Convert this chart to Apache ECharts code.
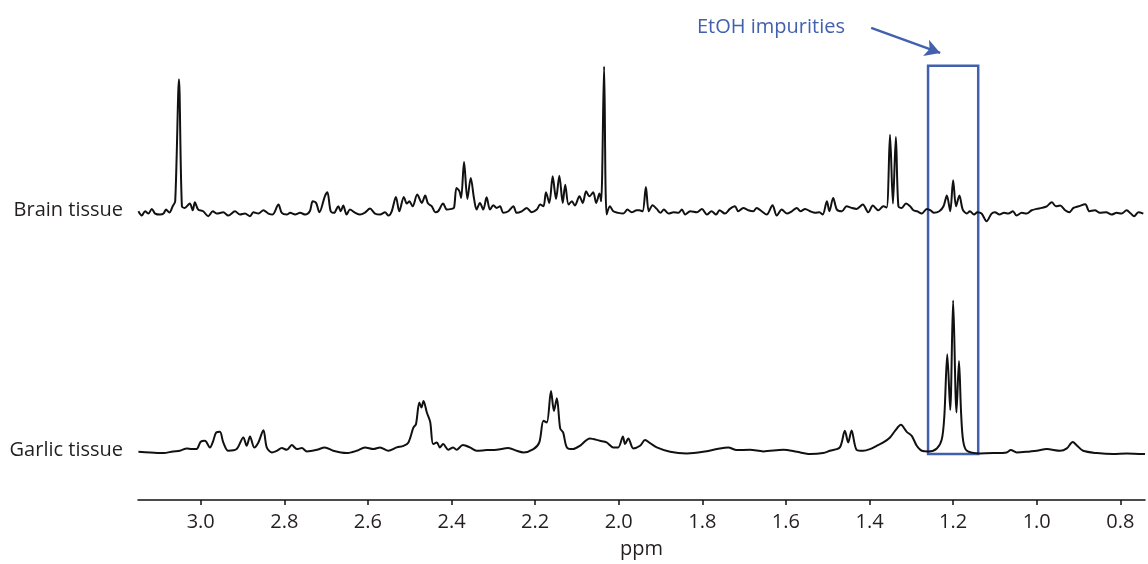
<!DOCTYPE html>
<html>
<head>
<meta charset="utf-8">
<title>1H NMR - brain vs garlic tissue</title>
<script src="https://cdn.jsdelivr.net/npm/echarts@6/dist/echarts.min.js"></script>
<style>
    html, body { margin: 0; padding: 0; background: #fff; }
    #spectrum { width: 1148px; height: 564px; }
</style>
</head>
<body>
<div id="spectrum"></div>
<script>
// tick labels on the ppm axis
var ppmTicks = [3.0, 2.8, 2.6, 2.4, 2.2, 2.0, 1.8, 1.6, 1.4, 1.2, 1.0, 0.8];

// trace labels
var traceNames = ['Brain tissue', 'Garlic tissue'];

// brain tissue spectrum [ppm, intensity]
var brainPoints = [
    [3.149, 1.3], [3.141, -3], [3.133, 1.3], [3.125, -1], [3.117, 3.7], [3.109, -1], [3.097, -2], [3.089, -1],
    [3.083, 3], [3.075, 0], [3.067, 6.3], [3.061, 11.3], [3.052, 133.7], [3.045, 6.3], [3.038, 4.7], [3.026, 9],
    [3.019, 2.3], [3.014, 10.3], [3.006, 3], [2.994, 1.3], [2.982, -3.7], [2.971, 1.3], [2.962, -1], [2.946, 0.3],
    [2.934, -3], [2.918, 1.3], [2.906, -2], [2.894, -1], [2.882, -3.7], [2.874, 0.3], [2.862, -1], [2.850, 2.3],
    [2.838, -1], [2.828, -2], [2.814, 8], [2.806, -0.3], [2.794, -2], [2.786, -0.3], [2.774, -2], [2.762, -0.3],
    [2.750, -2], [2.739, 1.3], [2.732, 11.3], [2.724, 9.7], [2.716, 0.3], [2.703, 16.3], [2.697, 20.3], [2.689, 1.3],
    [2.681, -0.3], [2.671, 6.3], [2.665, 1.3], [2.659, 7], [2.651, -2], [2.643, 3], [2.631, 0], [2.619, -2],
    [2.607, 0], [2.595, 4], [2.583, -1], [2.571, -2], [2.559, 0.3], [2.551, -3], [2.543, 1.3], [2.533, 15.7],
    [2.525, 1.3], [2.514, 15.7], [2.507, 9], [2.501, 11.3], [2.493, 6.3], [2.482, 18], [2.471, 9.7], [2.463, 17],
    [2.456, 9], [2.447, 6.3], [2.439, 0.3], [2.432, 1.3], [2.420, 9], [2.411, 3], [2.400, 3.7], [2.394, 4.7],
    [2.388, 24.7], [2.381, 21.3], [2.377, 14.7], [2.370, 50.7], [2.362, 13.7], [2.354, 34.7], [2.346, 13.7], [2.340, 3],
    [2.332, 9.7], [2.324, 3], [2.316, 15.3], [2.308, 3], [2.300, 7.3], [2.292, 4.7], [2.284, 6.3], [2.276, -0.3],
    [2.264, 1.3], [2.252, 6.3], [2.244, -0.3], [2.232, 1.3], [2.220, 4.7], [2.208, 0.3], [2.196, 3], [2.188, 8],
    [2.180, 6.3], [2.174, 20.3], [2.166, 9.7], [2.158, 36.3], [2.150, 13.7], [2.142, 37], [2.134, 9.7], [2.128, 28],
    [2.120, 8], [2.112, 11.3], [2.105, 7], [2.094, 16.3], [2.086, 9.7], [2.078, 21.3], [2.070, 16.3], [2.061, 20.3],
    [2.054, 9.7], [2.046, 19], [2.042, 11.3], [2.035, 146.3], [2.029, -2], [2.021, 6.3], [2.013, 1.3], [2.001, -0.3],
    [1.989, -1], [1.979, 3], [1.969, 0.3], [1.957, 2.3], [1.951, 2.3], [1.943, 1.3], [1.935, 25.7], [1.928, 1.3],
    [1.919, 7.3], [1.909, 3.7], [1.900, -0.3], [1.892, 3], [1.881, -1], [1.869, 0.3], [1.857, -0.3], [1.849, 3],
    [1.841, -2], [1.829, 1.3], [1.813, 0.3], [1.801, 3.7], [1.789, -2], [1.778, 1.3], [1.767, -2], [1.759, 2.3],
    [1.746, -1], [1.734, 3.7], [1.722, 6.3], [1.714, 1.3], [1.702, 4.7], [1.690, 2.3], [1.678, 1.3], [1.670, 4.7],
    [1.658, 1.3], [1.646, -2], [1.632, 7.3], [1.622, -3], [1.610, 3], [1.598, -1], [1.586, 1.3], [1.574, 4.7],
    [1.565, 1.3], [1.554, 3.7], [1.542, 1.3], [1.530, -0.3], [1.520, 0.3], [1.512, -2], [1.502, 11.3], [1.496, 1.3],
    [1.487, 14.7], [1.478, 3], [1.466, 1.3], [1.455, 6.3], [1.443, 4.7], [1.431, 3.7], [1.416, 8], [1.403, 0.3],
    [1.392, 7], [1.379, 2.3], [1.367, 6.3], [1.359, 5], [1.351, 78], [1.344, 9], [1.337, 75.7], [1.331, 6.3],
    [1.323, 4.7], [1.313, 9], [1.303, 6.3], [1.295, 2.3], [1.286, 1.3], [1.275, -1], [1.263, 3.7], [1.254, 2.3],
    [1.246, -0.3], [1.233, 1.3], [1.223, 6.3], [1.215, 17], [1.207, 1.3], [1.200, 32.3], [1.193, 6.3], [1.185, 17],
    [1.177, 3], [1.167, -1], [1.160, 1.3], [1.150, -2], [1.142, 0.3], [1.132, -1], [1.120, -8.7], [1.108, -1],
    [1.100, 0.3], [1.089, -2], [1.078, -0.3], [1.068, -1], [1.057, 1.3], [1.048, -3], [1.036, -0.3], [1.024, -1],
    [1.012, 2.3], [1.000, 3.7], [0.988, 4.7], [0.976, 6.3], [0.964, 10.3], [0.954, 6.3], [0.944, 7], [0.932, 2.3],
    [0.922, 0.3], [0.912, 4.7], [0.900, 6.3], [0.884, 8.3], [0.874, 1.3], [0.861, 2.3], [0.849, -0.3], [0.834, 0.3],
    [0.821, -2], [0.809, -0.3], [0.797, -1], [0.785, 2.3], [0.775, -1], [0.767, -3.7], [0.757, 0.3], [0.745, -1]
];

// garlic tissue spectrum [ppm, intensity]
var garlicPoints = [
    [3.149, 0.3], [3.121, -0.3], [3.089, -1], [3.066, 0.7], [3.050, 1.3], [3.033, 3.7], [3.022, 3], [3.010, 3],
    [3.000, 10.3], [2.990, 11.3], [2.978, 4.7], [2.970, 11.3], [2.963, 19.7], [2.954, 20.3], [2.946, 9.7], [2.934, 1.3],
    [2.914, 3], [2.898, 14.7], [2.890, 6.3], [2.882, 15.7], [2.872, 4.7], [2.862, 9.7], [2.850, 22], [2.842, 4.7],
    [2.830, -0.3], [2.818, 1.3], [2.806, 4], [2.794, 2.3], [2.782, 7], [2.770, 3], [2.758, 4], [2.746, 0.7],
    [2.722, 2.3], [2.703, 4.7], [2.683, 1.3], [2.651, -1], [2.627, 1.3], [2.607, 4.7], [2.587, 3], [2.571, 4.7],
    [2.551, 1.3], [2.531, 4.7], [2.515, 6.3], [2.503, 9.7], [2.491, 24.7], [2.485, 28], [2.477, 49.7], [2.472, 44.7],
    [2.467, 51.3], [2.459, 39.7], [2.451, 30.3], [2.444, 8], [2.435, 9.7], [2.428, 4.7], [2.420, 8], [2.408, 2.3],
    [2.396, 4.7], [2.388, 2.3], [2.373, 7], [2.356, 4.7], [2.340, 1.3], [2.316, 2], [2.292, 2.3], [2.264, 4],
    [2.244, 1.3], [2.228, -0.3], [2.204, 3], [2.190, 9.7], [2.180, 31.3], [2.172, 29.7], [2.162, 61.3], [2.155, 41.3],
    [2.148, 54], [2.140, 23.7], [2.133, 19.7], [2.124, 4.7], [2.109, 3], [2.093, 6.3], [2.069, 13.7], [2.045, 11.3],
    [2.029, 9.7], [2.013, 4.7], [2.001, 4.7], [1.990, 15.7], [1.985, 8], [1.977, 13.7], [1.965, 3.7], [1.949, 6.3],
    [1.937, 12], [1.925, 9], [1.909, 4.7], [1.877, 0.3], [1.837, -1.3], [1.798, 0.3], [1.758, 3.7], [1.738, 4.7],
    [1.718, 2], [1.686, 2.3], [1.654, 0.7], [1.606, 2.3], [1.574, 0.3], [1.542, -2], [1.511, -1], [1.495, 1.3],
    [1.471, 4.7], [1.459, 21.3], [1.451, 9.7], [1.443, 21.7], [1.431, 2.3], [1.415, 1.3], [1.399, 3], [1.383, 6.3],
    [1.367, 9.7], [1.351, 14.7], [1.339, 21.3], [1.325, 27.3], [1.311, 20.3], [1.299, 16.3], [1.287, 6.3], [1.275, 1.3],
    [1.259, 0.7], [1.239, 3.7], [1.227, 13], [1.221, 36.3], [1.214, 98], [1.207, 42.3], [1.200, 152], [1.192, 39.7],
    [1.186, 91.3], [1.181, 39.7], [1.176, 11.3], [1.167, 1.3], [1.136, -1.3], [1.104, -1], [1.072, -0.3], [1.062, 2],
    [1.048, -0.3], [1.016, 0.7], [1.000, 1.3], [0.976, 3], [0.944, 1.3], [0.928, 3.7], [0.914, 10], [0.904, 6.7],
    [0.889, 1.3], [0.856, -1], [0.817, -2], [0.785, -1.3], [0.741, -2]
];

// vertical stacking of the two traces
var brainOffset = 288;
var garlicOffset = 48;

// EtOH box (ppm range) and arrow
var etohRange = [1.26, 1.14];
var etohBoxY = [435, 46];
var etohArrow = [[1.396, 473], [1.231, 448]];

var chartspectrum;

var shift = function(points, offset) {
    return points.map(function(p) {
        return [p[0], p[1] + offset];
    });
};

// 初始化图表
var initChart = function() {
    chartspectrum = echarts.init(document.getElementById('spectrum'));

    var textColor = '#231f20';
    var blue = '#4260ae';

    var option = {
        animation: false,
        backgroundColor: '#fff',
        grid: {
            left: 138,
            right: 3,
            top: 0,
            bottom: 63
        },
        xAxis: {
            type: 'value',
            inverse: true,
            min: 0.741,
            max: 3.15,
            name: 'ppm',
            nameLocation: 'middle',
            nameGap: 39,
            nameTextStyle: {
                color: textColor,
                fontFamily: 'Open Sans',
                fontSize: 20
            },
            axisLine: {
                lineStyle: { color: '#111', width: 1.5 }
            },
            axisTick: {
                show: true,
                length: 5,
                customValues: ppmTicks,
                lineStyle: { color: '#111', width: 1.5 }
            },
            axisLabel: {
                customValues: ppmTicks,
                margin: 12,
                color: textColor,
                fontFamily: 'Open Sans',
                fontSize: 20,
                formatter: function(v) {
                    return v.toFixed(1);
                }
            },
            splitLine: { show: false }
        },
        yAxis: {
            type: 'value',
            show: false,
            min: 0,
            max: 501
        },
        graphic: [{
            type: 'text',
            x: 123,
            y: 210,
            style: {
                text: traceNames[0],
                align: 'right',
                verticalAlign: 'middle',
                fontFamily: 'Open Sans',
                fontSize: 20,
                fill: textColor
            }
        }, {
            type: 'text',
            x: 123,
            y: 450,
            style: {
                text: traceNames[1],
                align: 'right',
                verticalAlign: 'middle',
                fontFamily: 'Open Sans',
                fontSize: 20,
                fill: textColor
            }
        }, {
            type: 'text',
            x: 697,
            y: 27,
            style: {
                text: 'EtOH impurities',
                align: 'left',
                verticalAlign: 'middle',
                fontFamily: 'Open Sans',
                fontSize: 20,
                fill: blue
            }
        }],
        series: [{
            name: traceNames[0],
            type: 'line',
            symbol: 'none',
            smooth: 0.3,
            lineStyle: { color: '#111', width: 2 },
            data: shift(brainPoints, brainOffset),
            markLine: {
                silent: true,
                symbol: ['none', 'arrow'],
                symbolSize: [13, 15],
                label: { show: false },
                lineStyle: { color: blue, width: 2.5, type: 'solid' },
                data: [[{ coord: etohArrow[0] }, { coord: etohArrow[1] }]]
            }
        }, {
            name: traceNames[1],
            type: 'line',
            symbol: 'none',
            smooth: 0.3,
            lineStyle: { color: '#111', width: 2 },
            data: shift(garlicPoints, garlicOffset),
            markArea: {
                silent: true,
                itemStyle: {
                    color: 'rgba(0,0,0,0)',
                    borderColor: blue,
                    borderWidth: 2.5
                },
                data: [[{ coord: [etohRange[0], etohBoxY[0]] }, { coord: [etohRange[1], etohBoxY[1]] }]]
            }
        }]
    };
    chartspectrum.setOption(option);
};

initChart();

window.addEventListener('resize', function() {
    chartspectrum.resize();
});
</script>
</body>
</html>
